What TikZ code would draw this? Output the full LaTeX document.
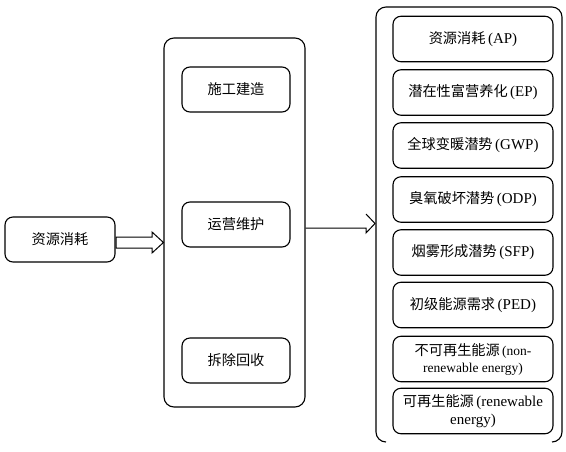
\documentclass[tikz,border=0pt]{standalone}
\usepackage{fontspec}
\setmainfont{Liberation Serif}
\newfontfamily\cjk{Noto Sans CJK SC}
\newcommand\cnt[1]{{\cjk\fontsize{14.2}{18}\selectfont #1}}
\begin{document}
\begin{tikzpicture}[x=1pt,y=-1pt,
  box/.style={draw, rounded corners=8pt, line width=1.1pt, align=center, inner sep=0pt,
    font=\fontsize{15}{18}\selectfont},
  lbox/.style={box, minimum width=110pt, minimum height=45pt},
  mbox/.style={box, minimum width=108pt, minimum height=45pt},
  rbox/.style={box, minimum width=160pt, minimum height=45.5pt},
  frame/.style={draw, rounded corners=10pt, line width=1.1pt},
  link/.style={draw, line width=1pt, line join=miter}]
\useasboundingbox (0,0) rectangle (566,451);

% left
\node[lbox] (L) at (60,239.5) {\cnt{资源消耗}};

% middle container
\node[frame, minimum width=141pt, minimum height=369pt, inner sep=0pt] (M) at (234.5,222.5) {};
\node[mbox] (m1) at (236,89.5) {\cnt{施工建造}};
\node[mbox] (m2) at (236,224.5) {\cnt{运营维护}};
\node[mbox] (m3) at (236,360.5) {\cnt{拆除回收}};

% right container (open bottom)
\coordinate (RBL) at (386,442);
\draw[line width=1.1pt] (RBL) arc[start angle=90, end angle=180, radius=10] -- (376,17)
  arc[start angle=180, end angle=270, radius=10] -- (552,7)
  arc[start angle=270, end angle=360, radius=10] -- (562,432)
  arc[start angle=0, end angle=90, radius=10];

\node[rbox] (r1) at (473,39)    {\cnt{资源消耗}\,(AP)};
\node[rbox] (r2) at (473,92.5)  {\cnt{潜在性富营养化}\,(EP)};
\node[rbox] (r3) at (473,145.5) {\cnt{全球变暖潜势}\,(GWP)};
\node[rbox] (r4) at (473,199.5) {\cnt{臭氧破坏潜势}\,(ODP)};
\node[rbox] (r5) at (473,252.5) {\cnt{烟雾形成潜势}\,(SFP)};
\node[rbox] (r6) at (473,305)   {\cnt{初级能源需求}\,(PED)};
\node[rbox, font=\fontsize{13.5}{17}\selectfont] (r7) at (473,359) {\cnt{不可再生能源}\,(non-\\renewable energy)};
\node[rbox] (r8) at (473,411) {\cnt{可再生能源}\,(renewable\\energy)};

% block arrow left -> middle
\coordinate (tipy) at (0,242.5);
\draw[link] (116,237) -- (152,237) -- (152,232) -- (M.west |- tipy)
  -- (152,253) -- (152,248) -- (116,248) -- cycle;

% connector middle -> right
\coordinate (c1) at (366,228);
\draw[link] (M.east |- c1) -- (c1) -- (366,233) -- (375,223.5) -- (366,214);
\end{tikzpicture}
\end{document}
